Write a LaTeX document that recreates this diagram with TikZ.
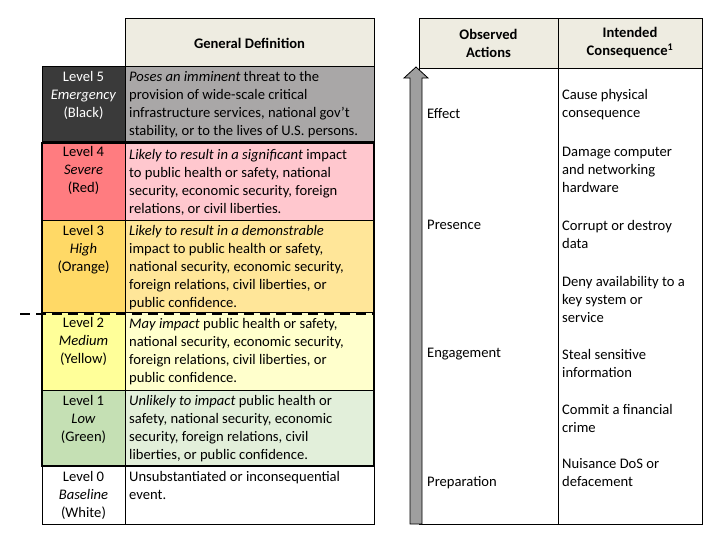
\documentclass[tikz,border=0pt]{standalone}
\usepackage{fontspec}
\setmainfont{Carlito}
\begin{document}
\begin{tikzpicture}[x=1pt,y=-1pt,font=\fontsize{14.6}{18}\selectfont,
 cell/.style={draw=black,line width=0.8pt},
 deftxt/.style={anchor=north west,align=left,inner sep=4pt},
 lvltxt/.style={anchor=north,align=center,inner sep=4pt},
 rtxt/.style={anchor=west,align=left,inner sep=4pt}]
\useasboundingbox (0,0) rectangle (727,551);
\definecolor{hdr}{HTML}{EEECE1}
% header
\draw[cell,fill=hdr] (125,18) rectangle (374,66);
\node[font=\fontsize{14.6}{18}\selectfont\bfseries] (gd) at (249.5,43) {General Definition};
% rows
\def\row#1#2#3#4#5#6{%
 \draw[cell,fill=#3] (42,#1) rectangle (125,#2);
 \draw[cell,fill=#4] (125,#1) rectangle (374,#2);
 \node[lvltxt,text=#6] at (83.5,#1+1) {#5};}
\definecolor{c5a}{HTML}{3A3A3A}\definecolor{c5b}{HTML}{A9A7A7}
\definecolor{c4a}{HTML}{FF7C80}\definecolor{c4b}{HTML}{FFC7CE}
\definecolor{c3a}{HTML}{FFD966}\definecolor{c3b}{HTML}{FFE699}
\definecolor{c2a}{HTML}{FFFF99}\definecolor{c2b}{HTML}{FFFFCC}
\definecolor{c1a}{HTML}{C5E0B4}\definecolor{c1b}{HTML}{E2EFDA}
\row{66}{141}{c5a}{c5b}{Level 5\\\textit{Emergency}\\(Black)}{white}
\node[deftxt] (d5) at (125,67) {\textit{Poses an imminent} threat to the\\provision of wide-scale critical\\infrastructure services, national gov’t\\stability, or to the lives of U.S. persons.};
\row{141}{220}{c4a}{c4b}{Level 4\\\textit{Severe}\\(Red)}{black}
\node[deftxt] (d4) at (125,145) {\textit{Likely to result in a significant} impact\\to public health or safety, national\\security, economic security, foreign\\relations, or civil liberties.};
\row{220}{312}{c3a}{c3b}{Level 3\\\textit{High}\\(Orange)}{black}
\node[deftxt] (d3) at (125,221) {\textit{Likely to result in a demonstrable}\\impact to public health or safety,\\national security, economic security,\\foreign relations, civil liberties, or\\public confidence.};
\row{312}{390}{c2a}{c2b}{Level 2\\\textit{Medium}\\(Yellow)}{black}
\node[deftxt] (d2) at (125,314) {\textit{May impact} public health or safety,\\national security, economic security,\\foreign relations, civil liberties, or\\public confidence.};
\row{390}{466}{c1a}{c1b}{Level 1\\\textit{Low}\\(Green)}{black}
\node[deftxt] (d1) at (125,391) {\textit{Unlikely to impact} public health or\\safety, national security, economic\\security, foreign relations, civil\\liberties, or public confidence.};
\row{466}{524}{white}{white}{Level 0\\\textit{Baseline}\\(White)}{black}
\node[deftxt] (d0) at (125,467) {Unsubstantiated or inconsequential\\event.};
% thick border and dashed line
\draw[line width=2.5pt] (42,143) rectangle (374,466);
\draw[line width=2.5pt,dash pattern=on 10pt off 6pt] (20,314) -- (374,314);
% right table
\draw[cell,fill=hdr] (419,18) rectangle (558,68);
\draw[cell,fill=hdr] (558,18) rectangle (702,68);
\node[align=center,font=\fontsize{14.6}{18}\selectfont\bfseries] (oa) at (488.5,43) {Observed\\Actions};
\node[align=center,font=\fontsize{14.6}{18}\selectfont\bfseries] (ic) at (630,43) {Intended\\Consequence\textsuperscript{1}};
\draw[cell] (419,68) rectangle (558,524);
\draw[cell] (558,68) rectangle (702,524);
% arrow
\draw[line width=0.8pt,fill=gray!75] (410,524) -- (410,78) -- (404,78) -- (416,67) -- (428,78) -- (422,78) -- (422,524) -- cycle;
\node[anchor=west,inner sep=4pt] (ef) at (423,114) {Effect};
\node[anchor=west,inner sep=4pt] (pr) at (423,225) {Presence};
\node[anchor=west,inner sep=4pt] (en) at (423,354) {Engagement};
\node[anchor=west,inner sep=4pt] (pp) at (423,483) {Preparation};
\node[rtxt] (r1) at (558,105) {Cause physical\\consequence};
\node[rtxt] (r2) at (558,170) {Damage computer\\and networking\\hardware};
\node[rtxt] (r3) at (558,234) {Corrupt or destroy\\data};
\node[rtxt] (r4) at (558,299) {Deny availability to a\\key system or\\service};
\node[rtxt] (r5) at (558,363) {Steal sensitive\\information};
\node[rtxt] (r6) at (558,418) {Commit a financial\\crime};
\node[rtxt] (r7) at (558,473) {Nuisance DoS or\\defacement};
\end{tikzpicture}
\end{document}
